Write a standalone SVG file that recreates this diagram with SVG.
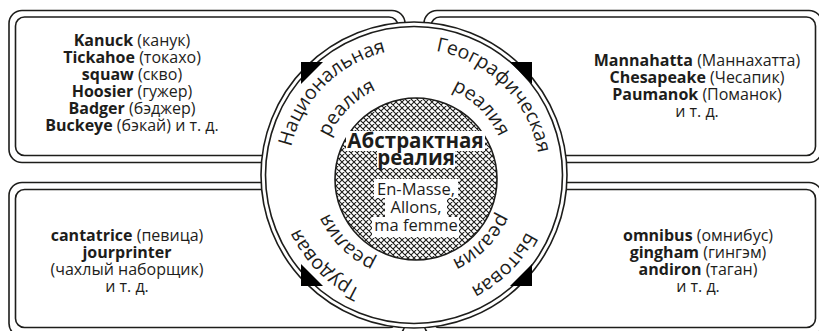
<svg xmlns="http://www.w3.org/2000/svg" width="819" height="331" viewBox="0 0 819 331">
<defs>
<pattern id="hatch" patternUnits="userSpaceOnUse" width="6" height="6">
<path d="M0,0 L6,6 M6,0 L0,6 M-1,5 L1,7 M5,-1 L7,1 M-1,1 L1,-1 M5,7 L7,5" stroke="#1d1d1b" stroke-width="1.1" fill="none"/>
</pattern>
<path id="ringOuter" d="M540,175 A126,126 0 1 1 288,175 A126,126 0 1 1 540,175"/>
<path id="ringInner" d="M507,175 A93,93 0 1 1 321,175 A93,93 0 1 1 507,175"/>
</defs>
<style>
.box{fill:#fff;stroke:#1d1d1b;stroke-width:1.6}
.line{fill:none;stroke:#1d1d1b;stroke-width:1.6}
.t{font-family:"Open Sans","Noto Sans",sans-serif;font-size:16px;fill:#1d1d1b;text-anchor:middle}
.b{font-weight:bold}
.ring{font-family:"Open Sans","Noto Sans",sans-serif;font-size:19.5px;fill:#1d1d1b;text-anchor:middle}
.ctitle{font-family:"Open Sans","Noto Sans",sans-serif;font-size:20.5px;font-weight:bold;fill:#1d1d1b;text-anchor:middle}
.cex{font-family:"Open Sans","Noto Sans",sans-serif;font-size:16.5px;fill:#1d1d1b;text-anchor:middle}
.tri{fill:#000}
</style>
<rect width="819" height="331" fill="#fff"/>

<g id="box-national">
<rect class="box" x="9" y="10.5" width="396" height="152" rx="13"/>
<rect class="line" x="15.5" y="17" width="382.5" height="138.5" rx="9"/>
<text class="t" x="132" y="46"><tspan class="b">Kanuck</tspan> (канук)</text>
<text class="t" x="132" y="63"><tspan class="b">Tickahoe</tspan> (токахо)</text>
<text class="t" x="132" y="80"><tspan class="b">squaw</tspan> (скво)</text>
<text class="t" x="132" y="97"><tspan class="b">Hoosier</tspan> (гужер)</text>
<text class="t" x="132" y="114"><tspan class="b">Badger</tspan> (бэджер)</text>
<text class="t" x="132" y="131"><tspan class="b">Buckeye</tspan> (бэкай) и т. д.</text>
</g>

<g id="box-geographic">
<rect class="box" x="424" y="10.5" width="398" height="152" rx="13"/>
<rect class="line" x="431" y="17" width="384.5" height="138.5" rx="9"/>
<text class="t" x="697" y="66"><tspan class="b">Mannahatta</tspan> (Маннахатта)</text>
<text class="t" x="697" y="83"><tspan class="b">Chesapeake</tspan> (Чесапик)</text>
<text class="t" x="697" y="100"><tspan class="b">Paumanok</tspan> (Поманок)</text>
<text class="t" x="697" y="117">и т. д.</text>
</g>

<g id="box-labour">
<rect class="box" x="9" y="182.5" width="396" height="154" rx="13"/>
<rect class="line" x="15.5" y="189.5" width="382.5" height="138" rx="9"/>
<text class="t" x="127" y="241"><tspan class="b">cantatrice</tspan> (певица)</text>
<text class="t b" x="127" y="258">jourprinter</text>
<text class="t" x="127" y="275">(чахлый наборщик)</text>
<text class="t" x="127" y="292">и т. д.</text>
</g>

<g id="box-everyday">
<rect class="box" x="424" y="182.5" width="398" height="154" rx="13"/>
<rect class="line" x="431" y="189.5" width="384.5" height="138" rx="9"/>
<text class="t" x="698" y="241"><tspan class="b">omnibus</tspan> (омнибус)</text>
<text class="t" x="698" y="258"><tspan class="b">gingham</tspan> (гингэм)</text>
<text class="t" x="698" y="275"><tspan class="b">andiron</tspan> (таган)</text>
<text class="t" x="698" y="292">и т. д.</text>
</g>

<g id="ring">
<circle class="box" cx="414" cy="175" r="153"/>
<circle class="line" cx="414" cy="175" r="148.5"/>
<text class="ring"><textPath href="#ringOuter" startOffset="62.5%">Национальная</textPath></text>
<text class="ring"><textPath href="#ringInner" startOffset="62.5%">реалия</textPath></text>
<text class="ring"><textPath href="#ringOuter" startOffset="87.5%">Географическая</textPath></text>
<text class="ring"><textPath href="#ringInner" startOffset="87.5%">реалия</textPath></text>
<text class="ring"><textPath href="#ringOuter" startOffset="37.5%">Трудовая</textPath></text>
<text class="ring"><textPath href="#ringInner" startOffset="37.5%">реалия</textPath></text>
<text class="ring"><textPath href="#ringOuter" startOffset="12.5%">Бытовая</textPath></text>
<text class="ring"><textPath href="#ringInner" startOffset="12.5%">реалия</textPath></text>
</g>

<g id="connectors">
<polygon class="tri" points="301,62 323,62 301,84"/>
<polygon class="tri" points="510,62 532,62 532,84"/>
<polygon class="tri" points="301,264 301,286 323,286"/>
<polygon class="tri" points="532,264 532,286 510,286"/>
</g>

<g id="abstract">
<circle cx="416" cy="179" r="81" fill="url(#hatch)" stroke="#1d1d1b" stroke-width="1.6"/>
<rect x="346" y="131" width="139" height="20" fill="#fff"/>
<rect x="377" y="151" width="78" height="17" fill="#fff"/>
<rect x="374" y="179" width="84" height="19" fill="#fff"/>
<rect x="385" y="198" width="62" height="19" fill="#fff"/>
<rect x="372" y="217" width="87" height="20" fill="#fff"/>
<text class="ctitle" x="415.5" y="148">Абстрактная</text>
<text class="ctitle" x="416" y="165">реалия</text>
<text class="cex" x="416" y="195">En-Masse,</text>
<text class="cex" x="416" y="213">Allons,</text>
<text class="cex" x="416" y="231">ma femme</text>
</g>
</svg>
